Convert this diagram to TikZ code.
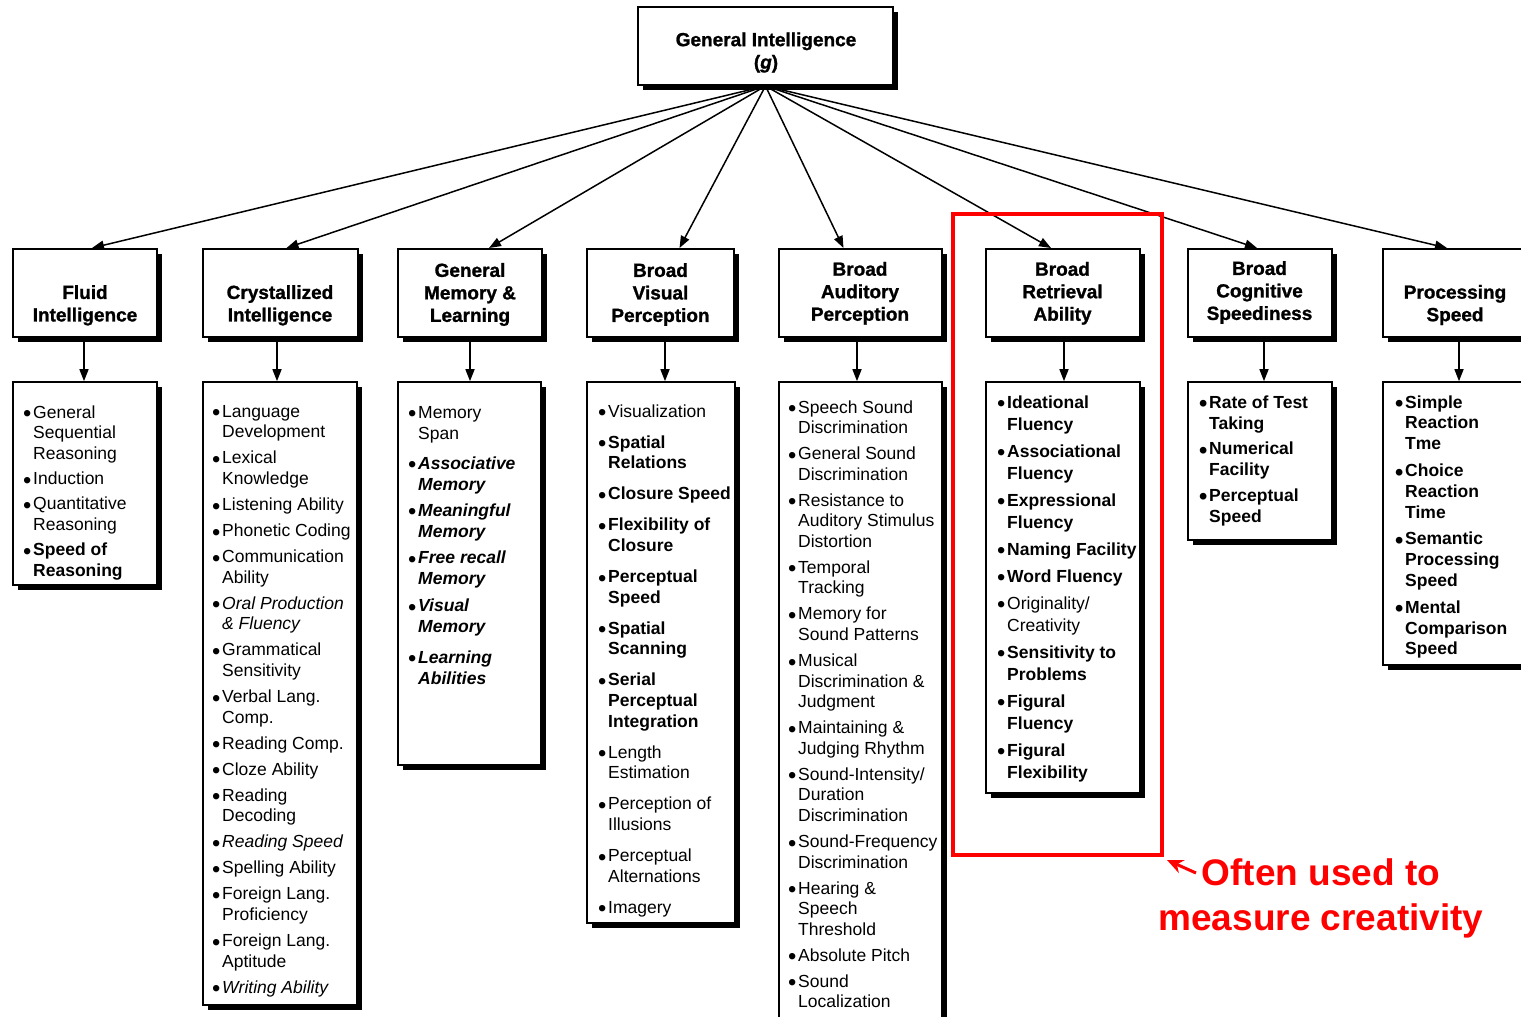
\documentclass[tikz,border=0pt]{standalone}
\usepackage{fontspec}
\setmainfont{Liberation Sans}
\newfontfamily\hdrfont{Liberation Sans}[FakeBold=1.2]
\usetikzlibrary{arrows.meta,shadows,fit}
% bullet hanging to the left of an item
\newcommand\bul{\leavevmode\llap{\raisebox{-3.6pt}{\scalebox{1.35}{\textbullet}}\hspace{1.8pt}}}
\newcommand\bi[1]{\textbf{\textit{#1}}}
\begin{document}
\begin{tikzpicture}[x=1pt,y=-1pt,
  box/.style={draw, line width=1.6pt, fill=white, inner sep=0pt,
    drop shadow={shadow xshift=4.5pt, shadow yshift=-4.5pt, fill=black, opacity=1}},
  htxt/.style={align=center, inner sep=0pt, font=\fontsize{19}{22.5}\selectfont\hdrfont\bfseries},
  lst/.style={anchor=base west, inner sep=0pt, font=\fontsize{17.5}{20.7}\selectfont},
  arr/.style={line width=1.5pt, -{Triangle[length=12pt,width=9pt]}},
  redarr/.style={red, line width=3pt, -{Stealth[length=16pt,width=14pt]}}]
\clip (0,0) rectangle (1521,1017);

% ---- connectors from g to the broad abilities
\coordinate (gs) at (765.5,86);
\draw[arr] (gs) -- (92,248)     coordinate (tF);
\draw[arr] (gs) -- (286.5,248)  coordinate (tC);
\draw[arr] (gs) -- (489,248)    coordinate (tM);
\draw[arr] (gs) -- (679.5,248)  coordinate (tV);
\draw[arr] (gs) -- (843.5,248)  coordinate (tA);
\draw[arr] (gs) -- (1051,248)   coordinate (tR);
\draw[arr] (gs) -- (1257,248)   coordinate (tS);
\draw[arr] (gs) -- (1447,248)   coordinate (tP);

% ---- top box
\node[box, fit={(638,7) (893,85)}] (g) {};
\node[htxt] (gt) at (766,52.5) {General Intelligence\\(\textit{g})};

% ---- broad ability boxes
\node[box, fit={(13,249) (157,337)}]    (hF) {};
\node[box, fit={(203,249) (358,337)}]   (hC) {};
\node[box, fit={(398,249) (542,337)}]   (hM) {};
\node[box, fit={(587,249) (734,337)}]   (hV) {};
\node[box, fit={(779,249) (942,337)}]   (hA) {};
\node[box, fit={(986,249) (1140,337)}]  (hR) {};
\node[box, fit={(1188,249) (1332,337)}] (hS) {};
\node[box, fit={(1383,249) (1527,337)}] (hP) {};

\node[htxt] (hFt) at (85,305.3)    {Fluid\\Intelligence};
\node[htxt] (hCt) at (280,305.3)   {Crystallized\\Intelligence};
\node[htxt] (hMt) at (470,294.5)   {General\\Memory \&\\Learning};
\node[htxt] (hVt) at (660.5,294.5) {Broad\\Visual\\Perception};
\node[htxt] (hAt) at (860,293.3)   {Broad\\Auditory\\Perception};
\node[htxt] (hRt) at (1062.5,293.3){Broad\\Retrieval\\Ability};
\node[htxt] (hSt) at (1259.5,292.5){Broad\\Cognitive\\Speediness};
\node[htxt] (hPt) at (1455,305)    {Processing\\Speed};

% ---- narrow ability boxes
\node[box, fit={(13,382) (157,585)}]    (lF) {};
\node[box, fit={(203,382) (357,1005)}]  (lC) {};
\node[box, fit={(398,382) (541,765)}]   (lM) {};
\node[box, fit={(587,382) (735,923)}]   (lV) {};
\node[box, fit={(779,382) (942,1040)}]  (lA) {};
\node[box, fit={(986,382) (1140,793)}]  (lR) {};
\node[box, fit={(1188,382) (1332,540)}] (lS) {};
\node[box, fit={(1383,382) (1527,665)}] (lP) {};

% ---- arrows from broad to narrow boxes
\draw[arr] ([xshift=-1pt]hF.south)   -- ([xshift=-1pt]hF.south |- lF.north);
\draw[arr] ([xshift=-3.5pt]hC.south) -- ([xshift=-3.5pt]hC.south |- lC.north);
\draw[arr] (hM.south)                -- (hM.south |- lM.north);
\draw[arr] ([xshift=4.5pt]hV.south)  -- ([xshift=4.5pt]hV.south |- lV.north);
\draw[arr] ([xshift=-3.5pt]hA.south) -- ([xshift=-3.5pt]hA.south |- lA.north);
\draw[arr] ([xshift=1pt]hR.south)    -- ([xshift=1pt]hR.south |- lR.north);
\draw[arr] ([xshift=4pt]hS.south)    -- ([xshift=4pt]hS.south |- lS.north);
\draw[arr] ([xshift=4pt]hP.south)    -- ([xshift=4pt]hP.south |- lP.north);

% ---- narrow ability lists
\node[lst] (iF) at (33,418) {\begin{minipage}[t]{130pt}
\bul General\\Sequential\\Reasoning\\[4.5pt]
\bul Induction\\[4.5pt]
\bul Quantitative\\Reasoning\\[4.5pt]
\bul\textbf{Speed of\\Reasoning}
\end{minipage}};

\node[lst] (iC) at (222,417) {\begin{minipage}[t]{140pt}
\bul Language\\Development\\[5.3pt]
\bul Lexical\\Knowledge\\[5.3pt]
\bul Listening Ability\\[5.3pt]
\bul Phonetic Coding\\[5.3pt]
\bul Communication\\Ability\\[5.3pt]
\bul\textit{Oral Production\\\& Fluency}\\[5.3pt]
\bul Grammatical\\Sensitivity\\[5.3pt]
\bul Verbal Lang.\\Comp.\\[5.3pt]
\bul Reading Comp.\\[5.3pt]
\bul Cloze Ability\\[5.3pt]
\bul Reading\\Decoding\\[5.3pt]
\bul\textit{Reading Speed}\\[5.3pt]
\bul Spelling Ability\\[5.3pt]
\bul Foreign Lang.\\Proficiency\\[5.3pt]
\bul Foreign Lang.\\Aptitude\\[5.3pt]
\bul\textit{Writing Ability}
\end{minipage}};

\node[lst, font=\fontsize{17.5}{21}\selectfont] (iM) at (418,418) {\begin{minipage}[t]{130pt}
\bul Memory\\Span\\[9pt]
\bul\bi{Associative\\Memory}\\[5pt]
\bul\bi{Meaningful\\Memory}\\[5.7pt]
\bul\bi{Free recall\\Memory}\\[5.7pt]
\bul\bi{Visual\\Memory}\\[9.7pt]
\bul\bi{Learning\\Abilities}
\end{minipage}};

\node[lst] (iV) at (608,417) {\begin{minipage}[t]{140pt}
\bul Visualization\\[10.3pt]
\bul\textbf{Spatial\\Relations}\\[10.3pt]
\bul\textbf{Closure Speed}\\[10.3pt]
\bul\textbf{Flexibility of\\Closure}\\[10.3pt]
\bul\textbf{Perceptual\\Speed}\\[10.3pt]
\bul\textbf{Spatial\\Scanning}\\[10.3pt]
\bul\textbf{Serial\\Perceptual\\Integration}\\[10.3pt]
\bul Length\\Estimation\\[10.3pt]
\bul Perception of\\Illusions\\[10.3pt]
\bul Perceptual\\Alternations\\[10.3pt]
\bul Imagery
\end{minipage}};

\node[lst, font=\fontsize{17.5}{20.55}\selectfont] (iA) at (798,413) {\begin{minipage}[t]{150pt}
\bul Speech Sound\\Discrimination\\[5.5pt]
\bul General Sound\\Discrimination\\[5.5pt]
\bul Resistance to\\Auditory Stimulus\\Distortion\\[5.5pt]
\bul Temporal\\Tracking\\[5.5pt]
\bul Memory for\\Sound Patterns\\[5.5pt]
\bul Musical\\Discrimination \&\\Judgment\\[5.5pt]
\bul Maintaining \&\\Judging Rhythm\\[5.5pt]
\bul Sound-Intensity/\\Duration\\Discrimination\\[5.5pt]
\bul Sound-Frequency\\Discrimination\\[5.5pt]
\bul Hearing \&\\Speech\\Threshold\\[5.5pt]
\bul Absolute Pitch\\[5.5pt]
\bul Sound\\Localization
\end{minipage}};

\node[lst, font=\fontsize{17.5}{22}\selectfont] (iR) at (1007,408) {\begin{minipage}[t]{140pt}
\bul\textbf{Ideational\\Fluency}\\[5pt]
\bul\textbf{Associational\\Fluency}\\[5pt]
\bul\textbf{Expressional\\Fluency}\\[5pt]
\bul\textbf{Naming Facility}\\[5pt]
\bul\textbf{Word Fluency}\\[5pt]
\bul Originality/\\Creativity\\[5pt]
\bul\textbf{Sensitivity to\\Problems}\\[5pt]
\bul\textbf{Figural\\Fluency}\\[5pt]
\bul\textbf{Figural\\Flexibility}
\end{minipage}};

\node[lst, font=\fontsize{17.5}{21}\selectfont\bfseries] (iS) at (1209,408) {\begin{minipage}[t]{130pt}
\bul Rate of Test\\Taking\\[4.5pt]
\bul Numerical\\Facility\\[4.5pt]
\bul Perceptual\\Speed
\end{minipage}};

\node[lst, font=\fontsize{17.5}{20.8}\selectfont\bfseries] (iP) at (1405,408) {\begin{minipage}[t]{130pt}
\bul Simple\\Reaction\\Tme\\[6pt]
\bul Choice\\Reaction\\Time\\[6pt]
\bul Semantic\\Processing\\Speed\\[6pt]
\bul Mental\\Comparison\\Speed
\end{minipage}};

% ---- highlight and note
\node[draw=red, line width=4pt, inner sep=0pt, fit={(953,214) (1162,855)}] (creative) {};
\node[align=center, inner sep=0pt, text=red, font=\fontsize{37}{45}\selectfont\bfseries]
  (note) at (1321,898) {Often used to\\measure creativity};
\coordinate (ntail) at (1196,873);
\draw[redarr] (ntail) -- ([xshift=3pt,yshift=-3pt]creative.south east);
\end{tikzpicture}
\end{document}
